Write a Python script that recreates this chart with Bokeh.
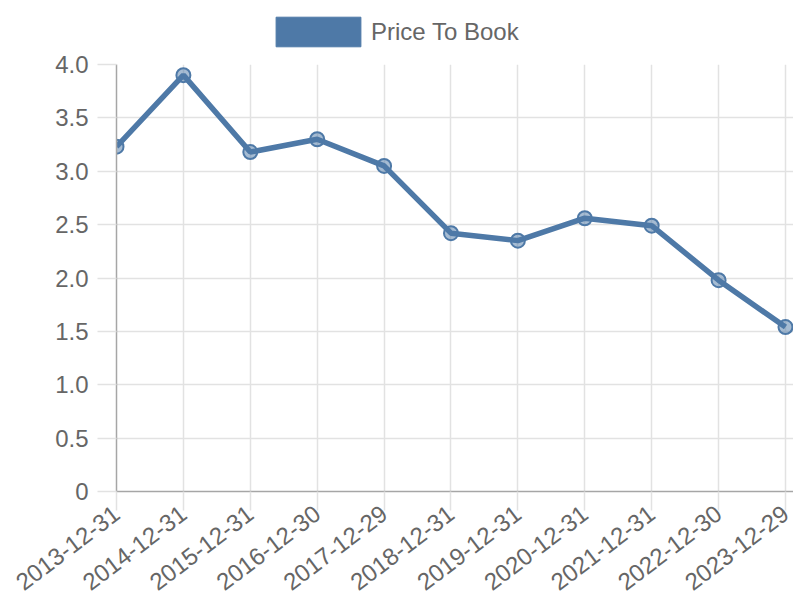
from bokeh.plotting import figure
from bokeh.layouts import column
from bokeh.models import (ColumnDataSource, Range1d, FixedTicker, Legend, LegendItem,
                          CustomJSTickFormatter)
from bokeh.embed import file_html
from bokeh.resources import INLINE

dates = ["2013-12-31", "2014-12-31", "2015-12-31", "2016-12-30", "2017-12-29",
         "2018-12-31", "2019-12-31", "2020-12-31", "2021-12-31", "2022-12-30",
         "2023-12-29"]
price_to_book = [3.23, 3.90, 3.18, 3.30, 3.05, 2.42, 2.35, 2.56, 2.49, 1.98, 1.54]
y_ticks = [0, 0.5, 1.0, 1.5, 2.0, 2.5, 3.0, 3.5, 4.0]
series_name = "Price To Book"

COLOR = "#4e79a7"
TEXT = "#666666"
GRID = "#e2e2e2"
AXIS = "#a6a6a6"
FONT = "Liberation Sans"

idx = list(range(len(dates)))
src = ColumnDataSource(dict(x=idx, y=price_to_book, d=dates))

# ---- legend strip (separate figure so the legend is not clipped) ----
lf = figure(width=793, height=50, output_backend="svg", toolbar_location=None,
            x_range=Range1d(0, 1), y_range=Range1d(0, 1),
            x_axis_location=None, y_axis_location=None,
            min_border_left=0, min_border_right=0, min_border_top=0,
            min_border_bottom=0)
lf.outline_line_color = None
lf.grid.visible = False
# legend-key proxy (kept outside the visible range; only its key is shown)
swatch = lf.quad(left=[5], right=[6], top=[6], bottom=[5], fill_color=COLOR,
                 line_color=COLOR, line_width=1)
legend = Legend(items=[LegendItem(label=series_name, renderers=[swatch])],
                location=(149, 0), orientation="horizontal",
                glyph_width=106, glyph_height=37, label_standoff=0,
                label_text_font=FONT, label_text_font_size="24px",
                label_text_color=TEXT, padding=0, margin=0, spacing=0,
                border_line_alpha=0, background_fill_alpha=0)
lf.add_layout(legend)

# ---- main chart ----
p = figure(width=793, height=550, output_backend="svg", toolbar_location=None,
           x_range=Range1d(0, len(dates) - 1 + 0.12), y_range=Range1d(0, 4),
           min_border_left=116, min_border_right=0, min_border_top=14,
           min_border_bottom=109)
p.frame_width = 677
p.frame_height = 427
p.outline_line_color = None
p.background_fill_color = "white"
p.border_fill_color = "white"

p.line("x", "y", source=src, line_color=COLOR, line_width=5.5)
p.scatter("x", "y", source=src, size=14, fill_color=COLOR, fill_alpha=0.5,
          line_color=COLOR, line_width=2)

xa = p.xaxis[0]
xa.ticker = FixedTicker(ticks=idx)
xa.major_label_overrides = {i: d for i, d in zip(idx, dates)}
xa.major_label_orientation = 0.65
ya = p.yaxis[0]
ya.ticker = FixedTicker(ticks=y_ticks)
ya.formatter = CustomJSTickFormatter(code="return tick == 0 ? '0' : tick.toFixed(1);")

for ax in (xa, ya):
    ax.axis_line_color = AXIS
    ax.axis_line_width = 1.5
    ax.major_tick_line_color = GRID
    ax.major_tick_line_width = 1.5
    ax.major_tick_out = 19
    ax.major_tick_in = 0
    ax.minor_tick_line_color = None
    ax.major_label_text_font = FONT
    ax.major_label_text_font_size = "24px"
    ax.major_label_text_color = TEXT
xa.major_label_standoff = 0
ya.major_label_standoff = 9

p.xgrid.ticker = FixedTicker(ticks=idx)
p.ygrid.ticker = FixedTicker(ticks=y_ticks)
for g in (p.xgrid[0], p.ygrid[0]):
    g.grid_line_color = GRID
    g.grid_line_width = 1.5

open("out.html", "w").write(file_html(column(lf, p, spacing=0), INLINE))
